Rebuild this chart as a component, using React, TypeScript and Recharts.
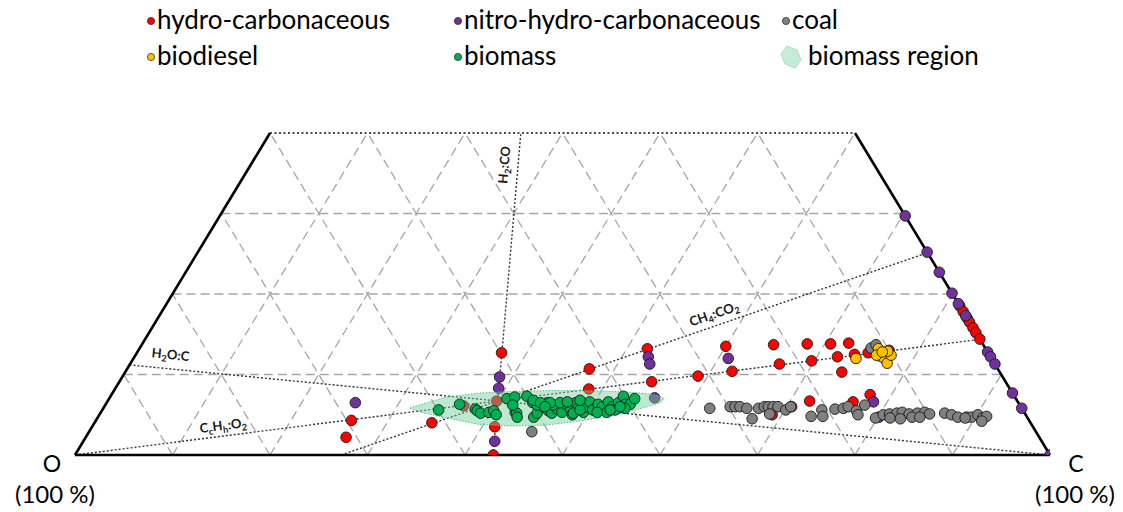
import React from 'react';
import { ScatterChart, Scatter, XAxis, YAxis, ReferenceLine, Curve } from 'recharts';

// Ternary compositions in mass %, given as [C, H]  (O = 100 - C - H)
const HYDRO_CARBONACEOUS: number[][] = [
  [26.2, 4.3], [26.7, 2.2], [34.6, 4.0], [36.8, 6.1], [37.4, 12.7], [39.9, 6.7], [41.3, 3.5], [42.9, 0],
  [47.4, 10.7], [48.6, 8.2], [52.1, 13.2], [54.6, 9.1], [59.0, 9.8], [60.0, 13.5], [62.2, 10.4], [64.8, 13.7],
  [66.6, 11.3], [69.0, 5.0], [68.2, 13.8], [70.6, 13.8], [72.4, 13.9], [69.7, 11.7], [72.1, 12.2], [73.7, 12.5],
  [75.0, 12.7], [77.0, 13.0], [73.5, 10.3], [72.0, 6.7], [76.5, 6.6], [77.8, 7.5], [70.5, 6.0],
  [81.5, 18.5], [82.2, 17.8], [83.0, 17.0], [83.5, 16.5], [84.2, 15.8], [84.8, 15.2], [85.6, 14.4],
];

const NITRO_HYDRO_CARBONACEOUS: number[][] = [
  [25.5, 6.5], [38.7, 9.7], [39.3, 8.3], [42.2, 1.7], [52.7, 12.2], [53.3, 11.3], [61.0, 12.0], [55.9, 7.1],
  [78.6, 6.6], [80.1, 4.7],
  [70.3, 29.7], [74.8, 25.2], [77.3, 22.7], [79.9, 20.1], [81.2, 18.8], [82.7, 17.3], [87.2, 12.8],
  [87.8, 12.2], [88.7, 11.3], [92.3, 7.7], [94.2, 5.8], [100, 0],
];

const COAL: number[][] = [
  [75.0, 13.3], [75.3, 13.7], [45.4, 2.9],
  [62.2, 5.8], [64.2, 6.0], [64.7, 6.0], [65.2, 6.0], [66.0, 5.8], [67.2, 4.5], [67.2, 5.8], [67.7, 6.0],
  [68.1, 6.0], [68.6, 6.0], [69.1, 6.0], [68.7, 5.1], [70.1, 5.6], [70.4, 6.0], [73.1, 4.8], [73.8, 5.6],
  [74.3, 4.8], [75.1, 5.7], [75.9, 5.8], [76.3, 6.0], [77.4, 5.5], [77.8, 5.0], [77.9, 6.2],
  [79.8, 4.6], [80.4, 5.0], [81.0, 5.1], [81.7, 5.2], [82.2, 5.3], [83.0, 5.1], [83.8, 5.2], [84.5, 5.3],
  [85.1, 5.1], [81.3, 4.6], [82.4, 4.5], [83.5, 4.7], [84.3, 4.7], [86.6, 5.2], [87.4, 5.0], [88.2, 4.7],
  [89.1, 4.7], [89.6, 4.7], [90.1, 5.0], [90.8, 4.6], [91.1, 4.8], [90.9, 4.2], [89.0, 4.6],
];

const BIODIESEL: number[][] = [
  [74.1, 12.0], [75.8, 13.2], [76.4, 12.3], [77.0, 12.0], [77.6, 11.4], [77.5, 12.4], [76.9, 12.9],
  [76.0, 12.4], [76.4, 12.8], [50.7, 5.6],
];

const BIOMASS: number[][] = [
  [34.5, 5.6], [36.3, 6.3], [38.2, 5.7], [38.5, 5.5], [39.0, 5.2], [39.8, 5.3], [40.2, 5.5], [40.7, 5.0],
  [40.8, 7.0], [41.5, 7.2], [42.5, 5.3], [42.7, 5.2], [43.0, 4.7], [42.7, 7.3], [43.7, 6.5], [44.7, 4.7],
  [44.8, 5.2], [45.0, 6.0], [45.8, 5.5], [46.3, 5.2], [46.6, 5.7], [47.3, 5.3], [47.2, 6.3], [48.0, 5.7],
  [48.5, 5.0], [48.1, 6.5], [48.7, 5.8], [48.8, 6.5], [49.5, 5.3], [49.5, 6.0], [49.5, 6.6], [50.3, 5.6],
  [50.5, 6.3], [51.1, 6.0], [51.9, 5.3], [51.4, 6.6], [52.1, 6.0], [52.6, 5.6], [52.5, 6.5], [52.6, 7.3],
  [53.3, 6.3], [53.8, 6.3], [53.9, 7.0], [53.5, 5.8], [44.3, 6.2], [45.2, 6.5], [45.9, 6.2], [46.5, 6.5],
  [47.2, 6.6], [48.5, 5.2], [49.0, 5.6], [50.9, 5.3], [52.1, 5.6], [52.9, 6.0], [43.6, 6.8], [44.5, 6.5],
  [41.8, 6.2], [45.5, 6.5], [48.4, 6.8], [45.2, 6.0],
];

// outline of the biomass region, [C, H]
const BIOMASS_REGION: number[][] = [
  [31.4, 5.84], [34.5, 7.2], [37.7, 7.7], [41.0, 7.9], [44.5, 8.0], [47.9, 8.0], [51.3, 7.9],
  [54.2, 7.7], [56.1, 7.4], [56.9, 7.0], [56.8, 6.5], [55.0, 5.7], [52.6, 4.85], [49.5, 4.2],
  [46.4, 3.7], [43.0, 3.6], [39.5, 3.8], [35.6, 4.65], [32.8, 5.3],
];

// species compositions (mass %), [C, H]
const SPECIES: Record<string, number[]> = {
  O: [0, 0], C: [100, 0], H2: [0, 100], H2O: [0, 11.19], CO: [42.88, 0],
  CO2: [27.29, 0], CH4: [74.87, 25.13], CH2: [85.63, 14.37],
};
const REACTION_LINES: string[][] = [['H2O', 'C'], ['O', 'CH2'], ['CO2', 'CH4'], ['CO', 'H2']];

// annotation labels: text (with _x subscripts), anchor [C, H], rotation
const LINE_LABELS = [
  { text: 'H_2:CO', c: 26.5, h: 36.0, angle: -85 },
  { text: 'H_2O:C', c: 3.8, h: 11.9, angle: 5.6 },
  { text: 'C_cH_h:O_2', c: 13.7, h: 3.1, angle: -7.2 },
  { text: 'CH_4:CO_2', c: 57.2, h: 17.0, angle: -18.9 },
];

const GRID_TICKS = [10, 20, 30, 40, 50, 60, 70, 80, 90];
const H_LEVELS = [10, 20, 30];
const H_MAX = 40;

const SERIES = [
  { name: 'hydro-carbonaceous', color: '#ff0000', data: HYDRO_CARBONACEOUS },
  { name: 'nitro-hydro-carbonaceous', color: '#7030a0', data: NITRO_HYDRO_CARBONACEOUS },
  { name: 'coal', color: '#808080', data: COAL },
  { name: 'biodiesel', color: '#ffc000', data: BIODIESEL },
  { name: 'biomass', color: '#00b050', data: BIOMASS },
];
const REGION_NAME = 'biomass region';
const REGION_FILL = '#6fcf97';

const LEGEND_ORDER = ['hydro-carbonaceous', 'nitro-hydro-carbonaceous', 'coal', 'biodiesel', 'biomass', REGION_NAME];

const toXY = (c: number, h: number) => ({ x: c + h / 2, y: h });
const toPoints = (arr: number[][]) => arr.map(([c, h]) => toXY(c, h));

const W = 1123;
const HT = 512;
const FONT = 'Lato, "Open Sans", sans-serif';

function buildGrid() {
  const segs: { x: number; y: number }[][] = [];
  H_LEVELS.forEach((h) => segs.push([toXY(0, h), toXY(100 - h, h)]));
  GRID_TICKS.forEach((k) => {
    const t = Math.min(H_MAX, 100 - k);
    segs.push([toXY(k, 0), toXY(k, t)]);
    segs.push([toXY(100 - k, 0), toXY(100 - k - t, t)]);
  });
  return segs;
}

function clipSeg(a: number[], b: number[]) {
  let bb = b;
  if (b[1] > H_MAX) {
    const f = (H_MAX - a[1]) / (b[1] - a[1]);
    bb = [a[0] + (b[0] - a[0]) * f, H_MAX];
  }
  return [toXY(a[0], a[1]), toXY(bb[0], bb[1])];
}

const Dot = (p: any) => (
  <circle cx={p.cx} cy={p.cy} r={5.3} fill={p.fill} stroke="#1a1a1a" strokeWidth={0.9} />
);

function renderRich(text: string, size: number) {
  const parts = text.split(/(_\w)/).filter((s) => s.length);
  const out: any[] = [];
  let sub = false;
  parts.forEach((s, i) => {
    if (s.startsWith('_')) {
      out.push(<tspan key={i} dy={3} fontSize={size * 0.7}>{s.slice(1)}</tspan>);
      sub = true;
    } else {
      out.push(<tspan key={i} dy={sub ? -3 : 0}>{s}</tspan>);
      sub = false;
    }
  });
  return out;
}

const LabelShape = (p: any) => {
  const { cx, cy, payload } = p;
  return (
    <text x={cx} y={cy} dy={4} textAnchor="middle" fontSize={13} fontWeight={700} fontFamily={FONT} fill="#1a1a1a"
      transform={`rotate(${payload.angle}, ${cx}, ${cy})`}>
      {renderRich(payload.text, 13)}
    </text>
  );
};

export default function App() {
  const grid = buildGrid();
  const O = toXY(0, 0), C = toXY(100, 0), TL = toXY(0, H_MAX), TR = toXY(100 - H_MAX, H_MAX);
  const reactions = REACTION_LINES.map(([a, b]) => clipSeg(SPECIES[a], SPECIES[b]));
  const labelData = LINE_LABELS.map((l) => ({ ...toXY(l.c, l.h), text: l.text, angle: l.angle }));
  const byName = (n: string) => SERIES.find((s) => s.name === n)!;
  const under = ['hydro-carbonaceous', 'nitro-hydro-carbonaceous', 'coal', 'biodiesel'];

  const legendPos = [
    { x: 151, y: 21 }, { x: 458, y: 21 }, { x: 786, y: 21 },
    { x: 151, y: 57 }, { x: 458, y: 57 }, { x: 791, y: 57 },
  ];

  return (
    <div style={{ position: 'absolute', left: 0, top: 0, width: W, height: HT, background: '#fff' }}>
      <ScatterChart width={W} height={HT} margin={{ top: 133, right: 73, bottom: 57, left: 75 }}>
        <XAxis type="number" dataKey="x" domain={[0, 100]} hide allowDataOverflow />
        <YAxis type="number" dataKey="y" domain={[0, H_MAX]} hide allowDataOverflow />
        {grid.map((s, i) => (
          <ReferenceLine key={'g' + i} segment={s} stroke="#a6a6a6" strokeWidth={1.3} strokeDasharray="9 5" ifOverflow="visible" />
        ))}
        {reactions.map((s, i) => (
          <ReferenceLine key={'r' + i} segment={s} stroke="#333" strokeWidth={1.4} strokeDasharray="2 2" ifOverflow="visible" />
        ))}
        <ReferenceLine segment={[TL, TR]} stroke="#111" strokeWidth={1.6} strokeDasharray="2 2.5" ifOverflow="visible" />
        <ReferenceLine segment={[O, C]} stroke="#000" strokeWidth={2.6} ifOverflow="visible" />
        <ReferenceLine segment={[O, TL]} stroke="#000" strokeWidth={2.6} ifOverflow="visible" />
        <ReferenceLine segment={[C, TR]} stroke="#000" strokeWidth={2.6} ifOverflow="visible" />
        <Scatter data={labelData} shape={LabelShape} isAnimationActive={false} />
        {under.map((n) => {
          const s = byName(n);
          return <Scatter key={n} name={n} data={toPoints(s.data)} fill={s.color} shape={Dot} isAnimationActive={false} />;
        })}
        <Scatter
          name={REGION_NAME}
          data={toPoints(BIOMASS_REGION)}
          fill={REGION_FILL}
          shape={() => <g />}
          line={(p: any) => (
            <Curve points={p.points} type="linearClosed" fill={REGION_FILL} fillOpacity={0.45}
              stroke="#5fbf88" strokeWidth={1} strokeDasharray="1.5 1.5" />
          )}
          isAnimationActive={false}
        />
        <Scatter name="biomass" data={toPoints(BIOMASS)} fill={byName('biomass').color} shape={Dot} isAnimationActive={false} />
      </ScatterChart>
      <svg width={W} height={HT} style={{ position: 'absolute', left: 0, top: 0, pointerEvents: 'none' }} fontFamily={FONT}>
        {LEGEND_ORDER.map((n, i) => {
          const p = legendPos[i];
          if (n === REGION_NAME) {
            return (
              <g key={n}>
                <path d={`M${p.x - 4},${p.y - 11} L${p.x + 6},${p.y - 7} L${p.x + 10},${p.y + 3} L${p.x + 4},${p.y + 11} L${p.x - 6},${p.y + 7} L${p.x - 10},${p.y - 3} Z`}
                  fill="#c6ecd6" stroke="#a9dcc0" strokeWidth={1} />
                <text x={p.x + 17} y={p.y + 8} fontSize={26} fill="#000">{n}</text>
              </g>
            );
          }
          const s = byName(n);
          return (
            <g key={n}>
              <circle cx={p.x} cy={p.y} r={3.6} fill={s.color} stroke="#333" strokeWidth={0.8} />
              <text x={p.x + 6} y={p.y + 8} fontSize={26} fill="#000">{n}</text>
            </g>
          );
        })}
        <text x={52} y={472} textAnchor="middle" fontSize={23} fill="#000">O</text>
        <text x={55} y={503} textAnchor="middle" fontSize={24} fill="#000">(100 %)</text>
        <text x={1076} y={472} textAnchor="middle" fontSize={23} fill="#000">C</text>
        <text x={1075} y={503} textAnchor="middle" fontSize={24} fill="#000">(100 %)</text>
      </svg>
    </div>
  );
}
